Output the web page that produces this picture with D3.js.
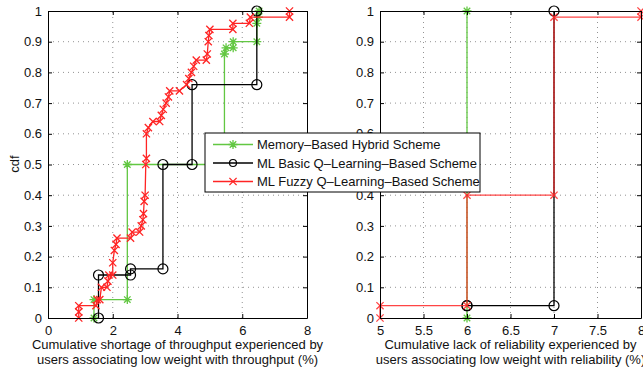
<!DOCTYPE html>
<html>
<head>
<meta charset="utf-8">
<script src="https://cdn.jsdelivr.net/npm/d3@7"></script>
<style>
  body { margin: 0; background: #fff; }
  svg { display: block; font-family: "Liberation Sans", Arial, sans-serif; }
</style>
</head>
<body>
<svg id="chart" width="643" height="371"></svg>
<script>
// left panel: throughput shortage
const memLeftX = [1.42, 1.42, 2.45, 2.45, 5.45, 5.45, 5.5, 5.72, 5.72, 6.45, 6.45, 6.5, 6.52];
const memLeftY = [0, 0.06, 0.06, 0.5, 0.5, 0.86, 0.88, 0.88, 0.9, 0.9, 0.96, 0.98, 1.0];
const basicLeftX = [1.56, 1.56, 2.55, 2.55, 3.55, 3.55, 4.45, 4.45, 6.45, 6.45];
const basicLeftY = [0, 0.14, 0.14, 0.16, 0.16, 0.5, 0.5, 0.76, 0.76, 1.0];
const fuzzyLeftX = [0.95, 0.95, 0.95, 1.48, 1.52, 1.6, 1.65, 1.82, 1.85, 1.88, 2.0, 2.0, 2.05, 2.1, 2.13,
  2.55, 2.6, 2.83, 2.88, 2.93, 2.95, 2.97, 3.0, 3.02, 3.04, 3.04, 3.1, 3.24, 3.45, 3.5, 3.56, 3.65,
  3.72, 3.76, 4.06, 4.28, 4.35, 4.43, 4.5, 4.58, 4.89, 4.92, 4.95, 4.97, 5.0, 5.71, 5.71, 6.22, 6.25, 7.46, 7.46];
const fuzzyLeftY = [0, 0.02, 0.04, 0.04, 0.06, 0.06, 0.1, 0.1, 0.12, 0.14, 0.14, 0.18, 0.22, 0.24, 0.26,
  0.26, 0.28, 0.28, 0.3, 0.32, 0.34, 0.38, 0.4, 0.5, 0.52, 0.6, 0.62, 0.64, 0.64, 0.66, 0.68, 0.7,
  0.72, 0.74, 0.74, 0.76, 0.78, 0.8, 0.82, 0.84, 0.84, 0.86, 0.9, 0.92, 0.94, 0.94, 0.96, 0.96, 0.98, 0.98, 1.0];

// right panel: reliability
const memRightX = [6, 6];
const memRightY = [0, 1.0];
const basicRightX = [6, 6, 7, 7];
const basicRightY = [0.04, 0.04, 0.04, 1.0];
const fuzzyRightX = [5, 5, 6, 6, 7, 7, 8, 8];
const fuzzyRightY = [0, 0.04, 0.04, 0.4, 0.4, 0.98, 0.98, 1.0];

const yTicks = [0, 0.1, 0.2, 0.3, 0.4, 0.5, 0.6, 0.7, 0.8, 0.9, 1];
const xTicksLeft = [0, 2, 4, 6, 8];
const xTicksRight = [5, 5.5, 6, 6.5, 7, 7.5, 8];

const seriesNames = [
  'Memory\u2013Based Hybrid Scheme',
  'ML Basic Q\u2013Learning\u2013Based Scheme',
  'ML Fuzzy Q\u2013Learning\u2013Based Scheme'
];
const xLabelLeft = ['Cumulative shortage of throughput experienced by', 'users associating low weight with throughput (%)'];
const xLabelRight = ['Cumulative lack of reliability experienced by', 'users associating low weight with reliability (%)'];

const GREEN = '#62c742';
const RED = '#ff2424';
const BLACK = '#000';
const FS = 13;

const svg = d3.select('#chart');
const y = d3.scaleLinear().domain([0, 1]).range([318, 11]);
const xLeft = d3.scaleLinear().domain([0, 8]).range([48, 307]);
const xRight = d3.scaleLinear().domain([5, 8]).range([380, 641]);

function marker(g, type, color) {
  if (type === 'star') {
    const r = 4.5, d = r * 0.72;
    g.append('path')
      .attr('d', `M${-r},0H${r}M0,${-r}V${r}M${-d},${-d}L${d},${d}M${-d},${d}L${d},${-d}`)
      .attr('stroke', color).attr('stroke-width', 1.3).attr('fill', 'none');
  } else if (type === 'circle') {
    g.append('circle').attr('r', 5).attr('fill', 'none')
      .attr('stroke', color).attr('stroke-width', 1.2);
  } else {
    const r = 3.6;
    g.append('path')
      .attr('d', `M${-r},${-r}L${r},${r}M${-r},${r}L${r},${-r}`)
      .attr('stroke', color).attr('stroke-width', 1.3).attr('fill', 'none');
  }
}

function panel(x, xTicks, tickFmt, label, series) {
  const g = svg.append('g');
  const [x0, x1] = x.range();
  const [yb, yt] = y.range();

  // dotted grid
  g.append('g').selectAll('line.gx')
    .data(xTicks.slice(1, -1))
    .join('line')
    .attr('x1', d => x(d)).attr('x2', d => x(d))
    .attr('y1', yb).attr('y2', yt)
    .attr('stroke', '#777').attr('stroke-width', 0.8).attr('stroke-dasharray', '1,4');
  g.append('g').selectAll('line.gy')
    .data(yTicks.slice(1, -1))
    .join('line')
    .attr('x1', x0).attr('x2', x1)
    .attr('y1', d => y(d)).attr('y2', d => y(d))
    .attr('stroke', '#777').attr('stroke-width', 0.8).attr('stroke-dasharray', '1,4');

  // series
  series.forEach(s => {
    const pts = s.xs.map((v, i) => [v, s.ys[i]]);
    g.append('path')
      .datum(pts)
      .attr('fill', 'none')
      .attr('stroke', s.color)
      .attr('stroke-width', 1.3)
      .attr('opacity', s.opacity || 1)
      .attr('d', d3.line().x(d => x(d[0])).y(d => y(d[1])));
    g.append('g').selectAll('g')
      .data(pts)
      .join('g')
      .attr('transform', d => `translate(${x(d[0])},${y(d[1])})`)
      .attr('opacity', s.opacity || 1)
      .each(function () { marker(d3.select(this), s.marker, s.color); });
  });

  // axes (ticks inward)
  const axB = d3.axisBottom(x).tickValues(xTicks).tickFormat(tickFmt).tickSizeInner(-4).tickSizeOuter(0).tickPadding(8);
  const axT = d3.axisTop(x).tickValues(xTicks).tickFormat('').tickSizeInner(-4).tickSizeOuter(0);
  const axL = d3.axisLeft(y).tickValues(yTicks).tickFormat(d3.format('~g')).tickSizeInner(-4).tickSizeOuter(0).tickPadding(6);
  const axR = d3.axisRight(y).tickValues(yTicks).tickFormat('').tickSizeInner(-4).tickSizeOuter(0);
  [[axB, `translate(0,${yb})`], [axT, `translate(0,${yt})`], [axL, `translate(${x0},0)`], [axR, `translate(${x1},0)`]]
    .forEach(([ax, tr]) => {
      const a = g.append('g').attr('transform', tr).call(ax);
      a.select('.domain').attr('stroke', '#000').attr('stroke-width', 1);
      a.selectAll('.tick line').attr('stroke', '#000');
      a.selectAll('text').attr('font-size', FS).attr('fill', '#111')
        .attr('font-family', '"Liberation Sans", Arial, sans-serif');
    });

  g.append('text')
    .attr('x', (x0 + x1) / 2).attr('y', 349)
    .attr('text-anchor', 'middle')
    .attr('font-size', FS).attr('fill', '#111')
    .selectAll('tspan').data(label).join('tspan')
    .attr('x', (x0 + x1) / 2).attr('dy', (d, i) => i ? 15 : 0)
    .text(d => d);
}

panel(xLeft, xTicksLeft, d3.format('d'), xLabelLeft, [
  { xs: memLeftX, ys: memLeftY, color: GREEN, marker: 'star' },
  { xs: basicLeftX, ys: basicLeftY, color: BLACK, marker: 'circle' },
  { xs: fuzzyLeftX, ys: fuzzyLeftY, color: RED, marker: 'x' }
]);
panel(xRight, xTicksRight, d3.format('~g'), xLabelRight, [
  { xs: memRightX, ys: memRightY, color: GREEN, marker: 'star' },
  { xs: basicRightX, ys: basicRightY, color: BLACK, marker: 'circle' },
  { xs: fuzzyRightX, ys: fuzzyRightY, color: RED, marker: 'x', opacity: 0.85 }
]);

svg.append('text')
  .attr('transform', 'translate(19,164) rotate(-90)')
  .attr('text-anchor', 'middle')
  .attr('font-size', FS).attr('fill', '#111')
  .text('cdf');

// legend
const legend = svg.append('g').attr('transform', 'translate(205,133)');
legend.append('rect').attr('width', 275).attr('height', 59)
  .attr('fill', '#fff').attr('stroke', '#000').attr('stroke-width', 1);
const legendMarkers = ['star', 'circle', 'x'];
const legendColors = [GREEN, BLACK, RED];
seriesNames.forEach((name, i) => {
  const row = legend.append('g').attr('transform', `translate(0,${11.5 + i * 18.5})`);
  row.append('line').attr('x1', 8).attr('x2', 48).attr('stroke', legendColors[i]).attr('stroke-width', 1.3);
  const m = row.append('g').attr('transform', 'translate(28,0)');
  if (legendMarkers[i] === 'circle') {
    m.append('circle').attr('r', 3.5).attr('fill', 'none').attr('stroke', BLACK).attr('stroke-width', 1.2);
  } else {
    marker(m, legendMarkers[i], legendColors[i]);
  }
  row.append('text').attr('x', 52).attr('y', 4.5)
    .attr('font-size', FS).attr('fill', '#111').text(name);
});
</script>
</body>
</html>
